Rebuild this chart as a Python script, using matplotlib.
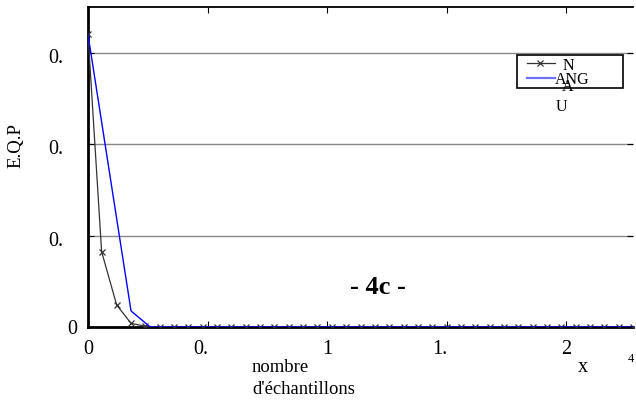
import numpy as np
import matplotlib
matplotlib.use('Agg')
import matplotlib.pyplot as plt
from matplotlib.transforms import ScaledTranslation
from matplotlib.lines import Line2D
from matplotlib.patches import Rectangle

plt.rcParams['font.family'] = ['Liberation Serif', 'DejaVu Serif']

# nombre d'echantillons (x 1e4)
x_n = [0, 0.057, 0.12, 0.18, 0.24] + [round(0.30 + 0.06 * i, 2) for i in range(34)]
y_n = [0.160, 0.0412, 0.012, 0.002, 0.0004] + [0.0] * 34
x_ang = [0, 0.18, 0.26, 2.28]
y_ang = [0.160, 0.0088, 0.0, 0.0]

xticks = [0, 0.5, 1, 1.5, 2]
xlabels = ['0', '0.', '1', '1.', '2']
yticks = [0, 0.05, 0.1, 0.15]
ylabels = ['0', '0.', '0.', '0.']

W, H = 636, 405
def fx(px):
    return px / W
def fy(py):
    return 1 - py / H

fig = plt.figure(figsize=(6.36, 4.05), dpi=100)
ax = fig.add_axes([88 / W, 78 / H, 545 / W, 320 / H])

ax.plot(x_n, y_n, '-', color='#333333', lw=0.9, marker='x', ms=4, mew=0.9,
        zorder=3)
ax.plot(x_ang, y_ang, '-', color='#0000ff', lw=1.0, zorder=4)

ax.set_xlim(0, 2.28)
ax.set_ylim(0, 0.175)
ax.set_xticks(xticks)
ax.set_xticklabels(xlabels, fontsize=14.5)
ax.set_yticks(yticks)
ax.set_yticklabels(ylabels, fontsize=14.5)
ax.yaxis.grid(True, color='#888888', lw=1.0)
ax.set_axisbelow(True)
ax.tick_params(direction='in', length=4, top=True, right=True)
ax.tick_params(axis='x', pad=9.5)
ax.tick_params(axis='y', pad=8)
for s in ['left', 'bottom']:
    ax.spines[s].set_linewidth(2)
ax.spines['top'].set_linewidth(1.3)
ax.spines['right'].set_visible(False)

# truncated labels sit left of their ticks
for lab, txt in zip(ax.get_xticklabels(), xlabels):
    if txt.endswith('.'):
        lab.set_horizontalalignment('right')
        lab.set_transform(lab.get_transform() + ScaledTranslation(0.01, 0, fig.dpi_scale_trans))
for lab, txt in zip(ax.get_yticklabels(), ylabels):
    if txt.endswith('.'):
        lab.set_transform(lab.get_transform() + ScaledTranslation(-0.14, -0.03, fig.dpi_scale_trans))

fig.text(fx(16), fy(145), 'E.Q.P', rotation=90, fontsize=13.5,
         ha='center', va='center')
fig.text(fx(252), fy(367), 'nombre', fontsize=13.4, ha='left', va='center')
fig.text(fx(252), fy(389), "d'échantillons", fontsize=13.4, ha='left', va='center')
fig.text(fx(583), fy(367), 'x', fontsize=14.5, ha='center', va='center')
fig.text(fx(631), fy(359), '4', fontsize=9, ha='center', va='center')
fig.text(fx(378), fy(288), '- 4c -', fontsize=19, fontweight='bold',
         ha='center', va='center')

# legend (drawn by hand, as in the original export)
fig.patches.append(Rectangle((fx(517), fy(88)), fx(623) - fx(517), fy(55) - fy(88),
                             transform=fig.transFigure, fill=False,
                             edgecolor='black', lw=1.2))
fig.lines.append(Line2D([fx(527), fx(555)], [fy(63), fy(63)], transform=fig.transFigure,
                        color='#333333', lw=0.9))
fig.lines.append(Line2D([fx(540)], [fy(63)], transform=fig.transFigure,
                        color='#333333', marker='x', ms=4, mew=0.9))
fig.lines.append(Line2D([fx(527), fx(555)], [fy(78), fy(78)], transform=fig.transFigure,
                        color='#7070ff', lw=1.6))
fig.text(fx(563), fy(66), 'N', fontsize=11.5, ha='left', va='center')
fig.text(fx(555), fy(80), 'ANG', fontsize=11.5, ha='left', va='center')
fig.text(fx(568), fy(87), 'A', fontsize=11.5, ha='center', va='center')
fig.text(fx(561), fy(107), 'U', fontsize=11.5, ha='center', va='center')

fig.savefig('out.png', dpi=100)
